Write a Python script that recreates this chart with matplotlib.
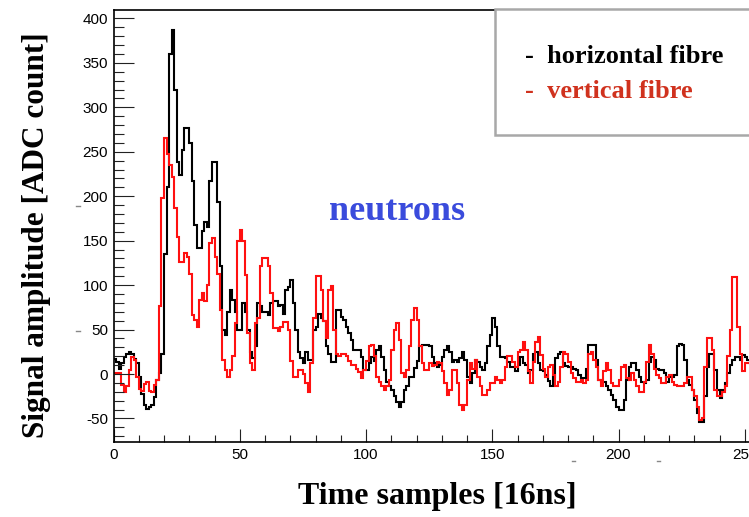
import matplotlib.pyplot as plt
from matplotlib.patches import Rectangle
from matplotlib.lines import Line2D
from matplotlib.ticker import MultipleLocator
import numpy as np

plt.rcParams['axes.unicode_minus'] = False

# signal amplitude per time sample (ADC counts)
horizontal = [
    17, 14, 6, 12, 19, 23, 25, 22, 17, 12, -3, -22, -35, -39, -37, -35,
    -26, -7, 1, 23, 135, 210, 360, 387, 319, 239, 224, 252, 277, 277, 260, 217,
    168, 142, 142, 161, 171, 165, 217, 239, 238, 194, 122, 50, 44, 70, 94, 83,
    70, 50, 50, 80, 70, 50, 25, 18, 31, 80, 76, 70, 70, 66, 80, 82,
    82, 76, 78, 68, 94, 98, 106, 80, 50, 25, 18, 12, 25, 16, 16, 50,
    53, 67, 63, 60, 31, 23, 14, 14, 72, 72, 64, 61, 53, 46, 38, 27,
    27, 27, 19, 5, 5, 12, 19, 15, 27, 31, 19, 5, -9, -14, -18, -25,
    -31, -37, -31, -18, -14, -3, -3, 7, 15, 31, 33, 33, 33, 31, 19, 12,
    8, 10, 19, 27, 31, 25, 14, 16, 14, 18, 25, 16, -3, -10, 1, 16,
    14, 8, 4, 12, 31, 44, 63, 53, 31, 19, 19, 18, 14, 8, 8, 3,
    10, 19, 12, 10, 1, 5, 23, 25, 12, 4, 3, -1, -8, -14, -3, 18,
    23, 25, 12, 9, 8, 8, 6, 4, -1, -4, -5, 6, 33, 33, 33, 16,
    -7, -9, -9, -14, -18, -24, -29, -37, -40, -40, -29, -7, 8, 12, 12, 4,
    -3, -9, -10, -7, 14, 19, 16, 6, 5, 4, 1, -9, -3, -3, -1, 31,
    34, 33, 16, -7, -12, -18, -29, -44, -54, -54, -25, 8, 23, 23, 4, -18,
    -27, -18, -10, 1, 10, 16, 19, 19, 16, 21, 19, 16, 14, 12, 10, 10,
]
vertical = [
    1, 1, 1, -12, -20, -14, 4, 19, 16, -3, -17, -19, -11, -9, -19, -20,
    -12, -7, 76, 198, 265, 248, 235, 222, 187, 154, 126, 126, 136, 132, 113, 66,
    61, 53, 83, 91, 82, 100, 147, 153, 132, 113, 72, 16, 4, -3, 4, 20,
    57, 150, 162, 150, 111, 46, 12, 5, 57, 63, 121, 130, 130, 121, 91, 52,
    52, 48, 53, 59, 59, 50, 15, -3, -3, 5, 5, 0, -10, -20, 12, 63,
    110, 110, 95, 60, 40, 94, 99, 50, 23, 20, 23, 23, 20, 15, 10, 10,
    6, 2, -5, 4, 15, 31, 33, 20, -3, -9, -14, -18, -14, -7, 27, 50,
    57, 38, 1, -3, 5, 31, 61, 74, 61, 31, 12, 5, 5, 12, 9, 10,
    14, 12, 3, -10, -24, -18, 5, 5, -10, -35, -40, -35, -7, 12, 6, 16,
    -3, -14, -24, -24, -18, -10, -10, -3, -7, -10, -7, 8, 20, 20, 14, 8,
    25, 27, 36, 27, 3, -10, 14, 36, 42, 21, 6, -3, 8, 10, -1, -14,
    -9, 8, 25, 23, 14, 1, -5, -9, -9, -7, -10, -7, 23, 25, 16, 8,
    -7, -14, 3, 12, 5, -10, -14, -13, -7, 8, 10, -5, -7, 1, -7, -14,
    -20, -20, -9, 14, 33, 23, 6, -1, -5, -10, -10, -3, -1, -9, -12, -14,
    -14, -14, -10, -3, -3, -18, -25, -37, -52, -50, 8, 40, 40, 27, -18, -25,
    -25, -20, -14, 20, 50, 109, 109, 53, 23, 3, 12, 12, 10, 8, 8, 8,
]
edges = np.arange(len(horizontal) + 1)

W, H = 749, 517
fig = plt.figure(figsize=(W / 100, H / 100), dpi=100)
ax = fig.add_axes([113.5 / W, (H - 442) / H, 646.4 / W, 432 / H])

ax.stairs(horizontal, edges, baseline=None, color='black', lw=1.5)
ax.stairs(vertical, edges, baseline=None, color='#ff1010', lw=1.5)

ax.set_xlim(0, 256)
ax.set_ylim(-76.5, 409.5)

ax.xaxis.set_major_locator(MultipleLocator(50))
ax.xaxis.set_minor_locator(MultipleLocator(10))
ax.yaxis.set_major_locator(MultipleLocator(50))
ax.yaxis.set_minor_locator(MultipleLocator(10))

ax.tick_params(axis='both', which='both', direction='in', width=0.8,
               color='#222222', labelsize=11, top=False, right=False)
ax.tick_params(axis='y', which='major', length=14.4, pad=4)
ax.tick_params(axis='y', which='minor', length=7.2)
ax.tick_params(axis='x', which='major', length=9.4, pad=4)
ax.tick_params(axis='x', which='minor', length=5)
for lab in ax.get_xticklabels() + ax.get_yticklabels():
    lab.set_fontfamily('Liberation Sans')
for sp in ax.spines.values():
    sp.set_linewidth(1.2)

serif = 'Liberation Serif'
fig.text(437 / W, 1 - 504 / H, 'Time samples [16ns]', ha='center', va='baseline',
         fontsize=23, fontweight='bold', family=serif)
fig.text(37 / W, 1 - 235 / H, 'Signal amplitude [ADC count]', ha='center', va='center',
         rotation=90, fontsize=22.5, fontweight='bold', family=serif)
fig.text(397 / W, 1 - 220 / H, 'neutrons', ha='center', va='baseline',
         fontsize=26, fontweight='bold', family=serif, color='#3a4bdc')

# legend box (pave), cut by the right edge
fig.patches.append(Rectangle((495 / W, 1 - 135 / H), 280 / W, 126 / H,
                             transform=fig.transFigure, facecolor='white',
                             edgecolor='#a8a8a8', lw=1.8, zorder=5))
fig.text(525 / W, 1 - 63 / H, '-  horizontal fibre', ha='left', va='baseline',
         fontsize=19, fontweight='bold', family=serif, color='black', zorder=6)
fig.text(525 / W, 1 - 98 / H, '-  vertical fibre', ha='left', va='baseline',
         fontsize=19, fontweight='bold', family=serif, color='#d0321e', zorder=6)

# small stray marks seen in the scan
for x0, x1, yy in [(76, 80, 206), (76, 80, 331), (572, 575, 461), (657, 660, 461)]:
    fig.lines.append(Line2D([x0 / W, x1 / W], [1 - yy / H, 1 - yy / H],
                            transform=fig.transFigure, color='#888888', lw=1))

fig.savefig('out.png', dpi=100)
